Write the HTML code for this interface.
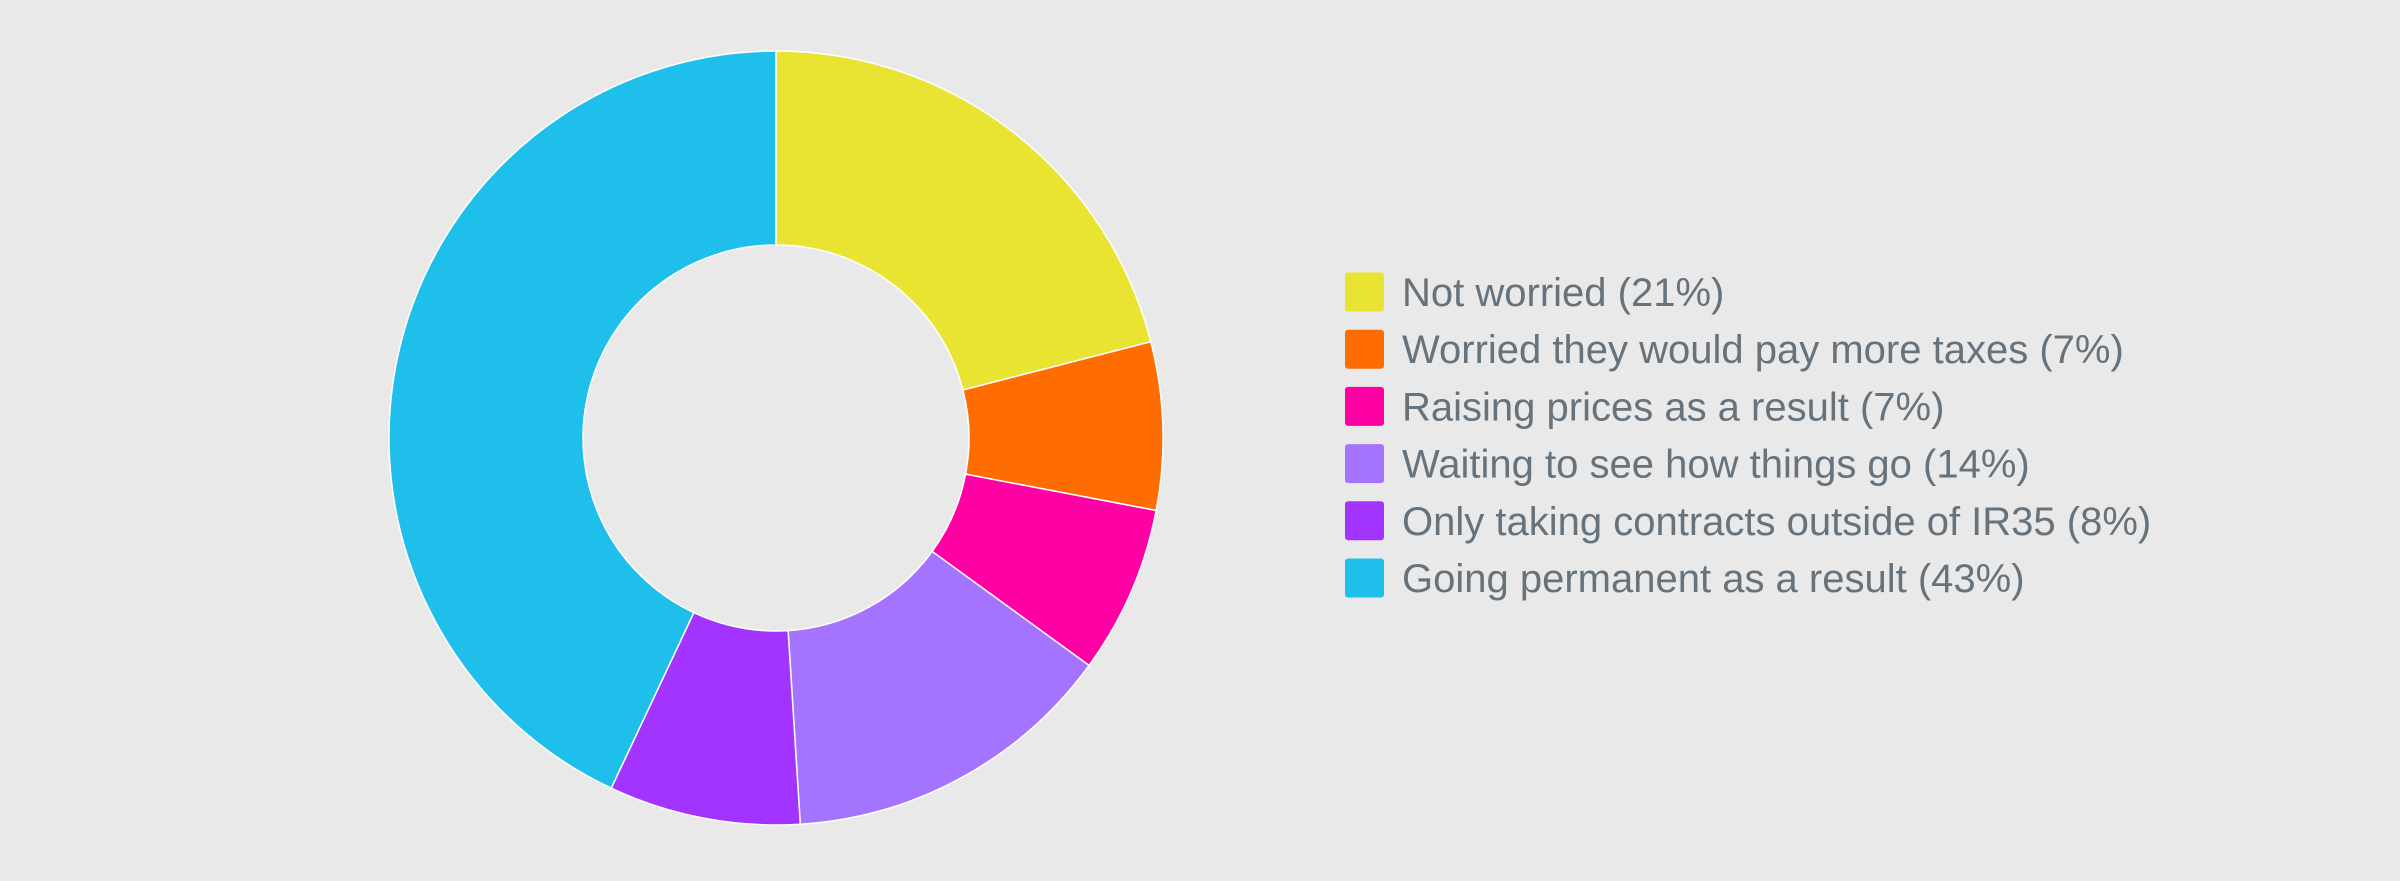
<!DOCTYPE html>
<html><head><meta charset="utf-8">
<style>
body{margin:0;background:#e9e9e9;width:2400px;height:876px;overflow:hidden;font-family:"Liberation Sans",sans-serif}
</style></head>
<body>
<svg id="chart" width="2400" height="876" xmlns="http://www.w3.org/2000/svg">
<rect width="2400" height="876" fill="#e9e9e9"/>
<g id="slices"></g>
<g id="legend"></g>
</svg>
<script>
const categories = ["Not worried (21%)","Worried they would pay more taxes (7%)","Raising prices as a result (7%)","Waiting to see how things go (14%)","Only taking contracts outside of IR35 (8%)","Going permanent as a result (43%)"];
const values = [21,7,7,14,8,43];
const colors = ["#e9e431","#ff6c00","#ff00a4","#a474ff","#a334ff","#1ebfea"];
const cx=776, cy=438, R=387, r=193;
const NS="http://www.w3.org/2000/svg";
const total=values.reduce((a,b)=>a+b,0);
const sg=document.getElementById('slices');
let acc=0;
function pt(a,rad){return [cx+rad*Math.sin(a), cy-rad*Math.cos(a)];}
values.forEach((v,i)=>{
  const a0=acc/total*2*Math.PI; acc+=v; const a1=acc/total*2*Math.PI;
  const large=(a1-a0)>Math.PI?1:0;
  const p0=pt(a0,R),p1=pt(a1,R),q1=pt(a1,r),q0=pt(a0,r);
  const p=document.createElementNS(NS,'path');
  p.setAttribute('d',`M${p0[0]},${p0[1]} A${R},${R} 0 ${large} 1 ${p1[0]},${p1[1]} L${q1[0]},${q1[1]} A${r},${r} 0 ${large} 0 ${q0[0]},${q0[1]} Z`);
  p.setAttribute('fill',colors[i]);
  p.setAttribute('stroke','#ffffff');
  p.setAttribute('stroke-width','1.5');
  
  
  sg.appendChild(p);
});
const lg=document.getElementById('legend');
categories.forEach((c,i)=>{
  const y=292+i*57.2;
  const s=document.createElementNS(NS,'rect');
  s.setAttribute('x',1345);s.setAttribute('y',y-19.5);s.setAttribute('width',39);s.setAttribute('height',39);
  s.setAttribute('rx',3);s.setAttribute('fill',colors[i]);
  
  
  lg.appendChild(s);
  const t=document.createElementNS(NS,'text');
  t.setAttribute('x',1402);t.setAttribute('y',y+14);
  t.setAttribute('font-size','40');t.setAttribute('fill','#66727c');
  t.setAttribute('font-family','"Liberation Sans", sans-serif');
  t.textContent=c;
  
  
  lg.appendChild(t);
});
</script>
</body></html>
